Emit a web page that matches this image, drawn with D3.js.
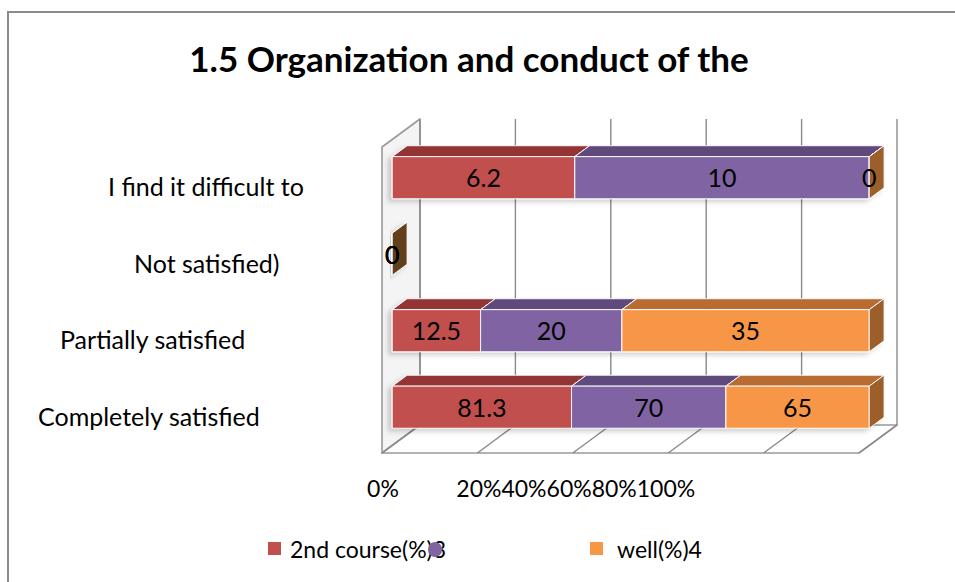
<!DOCTYPE html>
<html>
<head>
<meta charset="utf-8">
<script src="https://cdn.jsdelivr.net/npm/d3@7"></script>
<style>
  body { margin: 0; background: #fff; }
  svg text { font-family: Lato, 'Liberation Sans', sans-serif; fill: #000; }
</style>
</head>
<body>
<script>
(function () {
  'use strict'
  // data
  const categories = ['I find it difficult to', 'Not satisfied)', 'Partially satisfied', 'Completely satisfied']
  const seriesNames = ['2nd course(%)3', '', 'well(%)4']
  const course2 = [6.2, 0, 12.5, 81.3]
  const course3 = [10, 0, 20, 70]
  const course4 = [0, 0, 35, 65]
  const xTicks = [0, 0.2, 0.4, 0.6, 0.8, 1]
  const title = '1.5 Organization and conduct of the'

  const series = [course2, course3, course4]
  const colors = [
    {front: '#c0504d', top: '#943634', side: '#7a2c2a'},
    {front: '#8064a2', top: '#604a7b', side: '#4e3c66'},
    {front: '#f79646', top: '#b86c32', side: '#9c5e2c'}
  ]
  const emptySide = '#643f1e'

  const width = 955
  const height = 582
  const front = {left: 382, right: 859, top: 147, bottom: 453}
  const depth = {dx: 38, dy: -28}
  const barZ = [0.27, 0.66]
  const labelX = [108, 134, 60, 38]
  const legendX = [268, 428, 590]

  const svg = d3.select('body').append('svg')
    .attr('width', width)
    .attr('height', height)

  const defs = svg.append('defs')
  const shadow = defs.append('filter')
    .attr('id', 'shadow')
    .attr('x', '-10%').attr('y', '-30%')
    .attr('width', '120%').attr('height', '160%')
  shadow.append('feDropShadow')
    .attr('dx', -4).attr('dy', 3)
    .attr('stdDeviation', 2.5)
    .attr('flood-color', '#000')
    .attr('flood-opacity', 0.18)

  // outer chart border (runs off the right and bottom)
  svg.append('rect')
    .attr('x', 8).attr('y', 12)
    .attr('width', 980).attr('height', 620)
    .attr('fill', 'none')
    .attr('stroke', '#8c8c8c')
    .attr('stroke-width', 2)

  svg.append('text')
    .attr('x', 469)
    .attr('y', 72)
    .attr('text-anchor', 'middle')
    .attr('font-size', '35px')
    .attr('font-weight', 'bold')
    .text(title)

  const x = d3.scaleLinear().domain([0, 1]).range([front.left, front.right])
  const y = d3.scaleBand()
    .domain(categories)
    .range([front.top, front.bottom])
    .paddingInner(0.45)
    .paddingOuter(0.225)
  const bw = y.bandwidth()
  const proj = (v, py, z) => [x(v) + z * depth.dx, py + z * depth.dy]
  const poly = pts => 'M' + pts.map(p => p.join(',')).join('L') + 'Z'

  // walls and floor
  const walls = svg.append('g')
    .attr('fill', '#fff')
    .attr('stroke', '#9a9a9a')
    .attr('stroke-width', 1.6)
    .attr('stroke-linejoin', 'round')
  walls.append('path')
    .attr('fill', '#f4f4f4')
    .attr('d', poly([proj(0, front.top, 0), proj(0, front.top, 1), proj(0, front.bottom, 1), proj(0, front.bottom, 0)]))
  walls.append('path')
    .attr('d', poly([proj(0, front.bottom, 0), proj(0, front.bottom, 1), proj(1, front.bottom, 1), proj(1, front.bottom, 0)]))

  const grid = svg.append('g')
    .attr('stroke', '#8a8a8a')
    .attr('stroke-width', 1.4)
  grid.selectAll('line.floor')
    .data(xTicks)
    .enter().append('line')
    .attr('class', 'floor')
    .attr('x1', d => proj(d, front.bottom, 0)[0])
    .attr('y1', d => proj(d, front.bottom, 0)[1])
    .attr('x2', d => proj(d, front.bottom, 1)[0])
    .attr('y2', d => proj(d, front.bottom, 1)[1])
  grid.selectAll('line.back')
    .data(xTicks)
    .enter().append('line')
    .attr('class', 'back')
    .attr('x1', d => proj(d, front.bottom, 1)[0])
    .attr('y1', d => proj(d, front.bottom, 1)[1])
    .attr('x2', d => proj(d, front.top, 1)[0])
    .attr('y2', d => proj(d, front.top, 1)[1])

  // 100% stacked rows
  const rows = categories.map((c, i) => {
    const vals = series.map(s => s[i])
    const total = d3.sum(vals)
    let acc = 0
    const segs = vals.map((v, j) => {
      const v0 = total ? acc / total : 0
      acc += v
      const v1 = total ? acc / total : 0
      return {cat: c, j, value: v, v0, v1}
    })
    return {cat: c, total, segs}
  })

  const rowG = svg.selectAll('g.row')
    .data(rows)
    .enter().append('g')
    .attr('class', 'row')
    .attr('filter', 'url(#shadow)')

  rowG.each(function (r) {
    const g = d3.select(this)
    const yt = y(r.cat)
    const yb = yt + bw
    r.segs.forEach(s => {
      const seg = g.append('g')
        .attr('stroke', '#fff')
        .attr('stroke-width', 0.9)
        .attr('stroke-linejoin', 'round')
      seg.append('path')
        .attr('fill', colors[s.j].top)
        .attr('d', poly([proj(s.v0, yt, barZ[0]), proj(s.v1, yt, barZ[0]), proj(s.v1, yt, barZ[1]), proj(s.v0, yt, barZ[1])]))
      seg.append('path')
        .attr('fill', colors[s.j].front)
        .attr('d', poly([proj(s.v0, yt, barZ[0]), proj(s.v1, yt, barZ[0]), proj(s.v1, yb, barZ[0]), proj(s.v0, yb, barZ[0])]))
      seg.append('path')
        .attr('fill', r.total ? colors[s.j].side : emptySide)
        .attr('d', poly([proj(s.v1, yt, barZ[0]), proj(s.v1, yt, barZ[1]), proj(s.v1, yb, barZ[1]), proj(s.v1, yb, barZ[0])]))
    })
  })

  // data labels
  svg.append('g')
    .attr('text-anchor', 'middle')
    .attr('font-size', '25px')
    .selectAll('text')
    .data(rows.flatMap(r => r.segs))
    .enter().append('text')
    .attr('x', d => proj((d.v0 + d.v1) / 2, 0, barZ[0])[0])
    .attr('y', d => proj(0, y(d.cat) + bw / 2, barZ[0])[1] + 1)
    .attr('dy', '0.35em')
    .text(d => d.value)

  // category labels
  svg.append('g')
    .attr('font-size', '25px')
    .selectAll('text')
    .data(categories)
    .enter().append('text')
    .attr('x', (d, i) => labelX[i])
    .attr('y', d => y(d) + bw / 2 + 2)
    .attr('dy', '0.35em')
    .text(d => d)

  // x tick labels (crowded together as in the original)
  const fmt = d3.format('.0%')
  const tickG = svg.append('g')
    .attr('font-size', '23px')
    .attr('text-anchor', 'middle')
  tickG.append('text')
    .attr('x', x(xTicks[0]) + 1)
    .attr('y', 497)
    .text(fmt(xTicks[0]))
  tickG.append('text')
    .attr('x', x(0.4) + 3)
    .attr('y', 497)
    .text(xTicks.slice(1).map(fmt).join(''))

  // legend
  const legend = svg.append('g')
    .selectAll('g')
    .data(seriesNames)
    .enter().append('g')
    .attr('transform', (d, i) => `translate(${legendX[i]}, 542)`)
  legend.append('rect')
    .attr('width', d => d ? 13 : 14)
    .attr('height', d => d ? 13 : 15)
    .attr('rx', d => d ? 0 : 7)
    .attr('fill', (d, i) => colors[i].front)
  legend.append('text')
    .attr('x', (d, i) => i === 0 ? 22 : 27)
    .attr('y', 16)
    .attr('font-size', '23px')
    .text(d => d)
})()
</script>
</body>
</html>
